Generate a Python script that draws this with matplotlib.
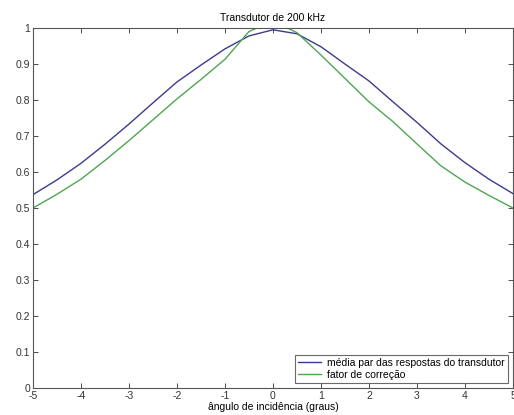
import numpy as np
import matplotlib
matplotlib.use("Agg")
import matplotlib.pyplot as plt

# angle of incidence (degrees)
angles = [-5.0, -4.5, -4.0, -3.5, -3.0, -2.5, -2.0, -1.5, -1.0, -0.5, 0.0,
          0.5, 1.0, 1.5, 2.0, 2.5, 3.0, 3.5, 4.0, 4.5, 5.0]

# mean response of the transducer
media_resp = [0.537, 0.578, 0.624, 0.677, 0.733, 0.792, 0.850, 0.897, 0.942,
              0.978, 0.995, 0.984, 0.948, 0.900, 0.853, 0.795, 0.738, 0.678,
              0.626, 0.580, 0.540]

# correction factor (peak runs past the top of the axes)
fator_corr = [0.500, 0.538, 0.580, 0.632, 0.687, 0.745, 0.803, 0.857, 0.913,
              0.990, 1.020, 0.987, 0.925, 0.860, 0.795, 0.740, 0.678, 0.617,
              0.572, 0.535, 0.500]

x_ticks = [-5, -4, -3, -2, -1, 0, 1, 2, 3, 4, 5]
y_ticks = [0, 0.1, 0.2, 0.3, 0.4, 0.5, 0.6, 0.7, 0.8, 0.9, 1]
y_labels = ["0", "0.1", "0.2", "0.3", "0.4", "0.5", "0.6", "0.7", "0.8", "0.9", "1"]

plt.rcParams["font.family"] = ["Liberation Sans", "DejaVu Sans"]
plt.rcParams["axes.unicode_minus"] = False

fig = plt.figure(figsize=(5.14, 4.15), dpi=100)
ax = fig.add_axes([0.064, 0.065, 0.934, 0.8675])

ax.plot(angles, media_resp, color="#3d3a8e", lw=1.0,
        label="média par das respostas do transdutor")
ax.plot(angles, fator_corr, color="#4fa64f", lw=1.0,
        label="fator de correção")

ax.set_xlim(-5, 5)
ax.set_ylim(0, 1)
ax.set_xticks(x_ticks)
ax.set_xticklabels([str(t) for t in x_ticks])
ax.set_yticks(y_ticks)
ax.set_yticklabels(y_labels)
ax.tick_params(direction="in", length=3.5, width=0.6, labelsize=7.5,
               top=True, right=True, colors="#333333", pad=2)
for sp in ax.spines.values():
    sp.set_linewidth(0.8)
    sp.set_color("#555555")

ax.set_title("Transdutor de 200 kHz", fontsize=7.5, pad=5)
ax.set_xlabel("ângulo de incidência (graus)", fontsize=7.5, labelpad=1)

leg = ax.legend(loc="lower right", fontsize=7.5, frameon=True, fancybox=False,
                borderaxespad=0.5, handlelength=2.2, borderpad=0.3,
                labelspacing=0.15, handletextpad=0.6)
leg.get_frame().set_edgecolor("#444444")
leg.get_frame().set_linewidth(0.8)

fig.savefig("out.png", dpi=100)
